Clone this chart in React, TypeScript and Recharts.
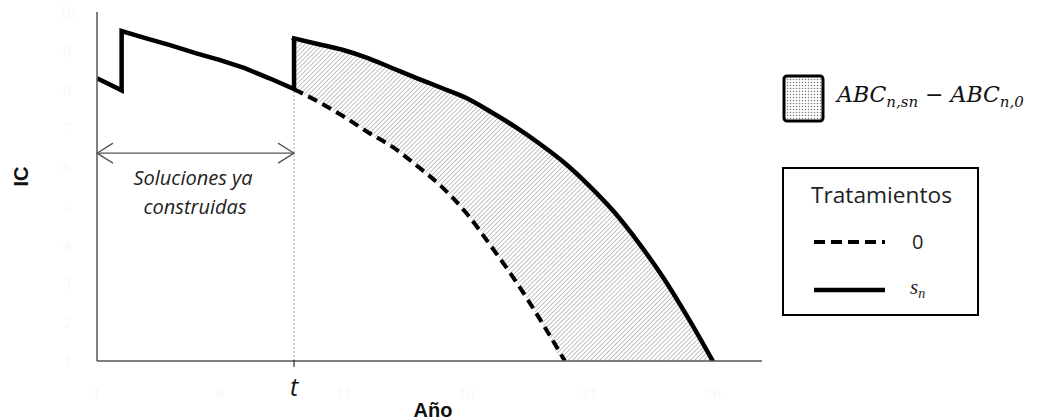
import React from 'react';
import {
  ComposedChart,
  Line,
  Area,
  XAxis,
  YAxis,
  ReferenceLine,
} from 'recharts';

// years on the axis
const xTicks = [1, 6, 9, 11, 16, 21, 26];
const yTicks = [1, 2, 3, 4, 5, 6, 7, 8, 9, 10];
const tYear = 9;

// treatment s_n, years already built (jumps at year 2 and at t)
const builtYears = [1, 2, 2, 3, 4, 5, 6, 7, 8, 9, 9];
const builtIC = [8.29, 7.98, 9.51, 9.32, 9.14, 8.94, 8.76, 8.55, 8.29, 8.01, 9.32];

// treatment s_n from t onwards
const futureYears = [9, 10, 11, 12, 13, 14, 15, 16, 17, 18, 19, 20, 21, 22, 23, 24, 25, 26];
const futureIC = [9.32, 9.17, 9.02, 8.81, 8.55, 8.29, 8.04, 7.78, 7.42, 7.03, 6.59, 6.1, 5.51, 4.84, 4.04, 3.14, 2.11, 1.0];

// treatment 0 from t onwards
const zeroYears = [9, 10, 11, 12, 13, 14, 15, 16, 17, 18, 19, 20];
const zeroIC = [8.01, 7.68, 7.31, 6.9, 6.52, 6.03, 5.49, 4.81, 3.96, 3.06, 2.06, 1.0];

// lower edge of the shaded band ABC_{n,sn} - ABC_{n,0}
const bandLow = [8.01, 7.68, 7.31, 6.9, 6.52, 6.03, 5.49, 4.81, 3.96, 3.06, 2.06, 1, 1, 1, 1, 1, 1, 1];

const builtData = builtYears.map((x, i) => ({ x, ic: builtIC[i] }));
const futureData = futureYears.map((x, i) => ({ x, ic: futureIC[i] }));
const zeroData = zeroYears.map((x, i) => ({ x, ic: zeroIC[i] }));
const bandData = futureYears.map((x, i) => ({ x, range: [bandLow[i], futureIC[i]] }));

const sans = '"Open Sans", sans-serif';
const serif = '"Liberation Serif", serif';
const math = '"DejaVu Serif", serif';
const bold = '"Liberation Sans", Arial, sans-serif';
const faint = '#f8f8f8';

const XTick = (props: any) => {
  const { x, y, payload } = props;
  if (payload.value === tYear) {
    return (
      <g>
        <line x1={x} x2={x} y1={y - 9} y2={y - 2} stroke="#333" strokeWidth={1.2} />
        <text x={x} y={y + 27} textAnchor="middle" fontFamily={sans} fontStyle="italic" fontSize={25} fill="#111">t</text>
      </g>
    );
  }
  return (
    <text x={x} y={y + 30} textAnchor="middle" fontFamily={serif} fontSize={17} fill={faint}>{payload.value}</text>
  );
};

const YTick = (props: any) => {
  const { x, y, payload } = props;
  return (
    <text x={x - 22} y={y + 6} textAnchor="middle" fontFamily={serif} fontSize={17} fill={faint}>{payload.value}</text>
  );
};

const ArrowShape = (props: any) => {
  const { x1, y1, x2, y2 } = props;
  const c = '#555';
  return (
    <g>
      <line x1={x1} y1={y1} x2={x2} y2={y2} stroke={c} strokeWidth={1.3} />
      <polyline points={`${x1 + 16},${y1 - 10} ${x1},${y1} ${x1 + 16},${y1 + 10}`} fill="none" stroke={c} strokeWidth={1.3} />
      <polyline points={`${x2 - 16},${y2 - 10} ${x2},${y2} ${x2 - 16},${y2 + 10}`} fill="none" stroke={c} strokeWidth={1.3} />
    </g>
  );
};

export default function App() {
  return (
    <div style={{ position: 'absolute', left: 0, top: 0, width: 1043, height: 420, background: '#fff' }}>
      <ComposedChart width={1043} height={420} margin={{ top: 12, right: 281, bottom: 0, left: 0 }}>
        <defs>
          <pattern id="hatch" width="3.2" height="3.2" patternUnits="userSpaceOnUse" patternTransform="rotate(45)">
            <line x1="0" y1="0" x2="0" y2="3.2" stroke="#7a7a7a" strokeWidth={0.9} />
          </pattern>
        </defs>
        <XAxis
          type="number"
          dataKey="x"
          domain={[1, 28]}
          ticks={xTicks}
          height={59}
          tickLine={false}
          axisLine={{ stroke: '#555', strokeWidth: 1.5 }}
          tick={<XTick />}
          allowDataOverflow
        />
        <YAxis
          type="number"
          domain={[1, 10]}
          ticks={yTicks}
          width={97}
          tickLine={false}
          axisLine={{ stroke: '#555', strokeWidth: 1.5 }}
          tick={<YTick />}
          allowDataOverflow
          label={{ value: 'IC', angle: -90, position: 'insideLeft', offset: 21, style: { fontFamily: bold, fontWeight: 'bold', fontSize: 20, fill: '#111' } }}
        />
        <Area
          data={bandData}
          dataKey="range"
          type="monotone"
          stroke="none"
          fill="url(#hatch)"
          fillOpacity={1}
          isAnimationActive={false}
        />
        <ReferenceLine
          segment={[{ x: tYear, y: 1 }, { x: tYear, y: 8.01 }]}
          stroke="#aaa"
          strokeDasharray="2 2"
          strokeWidth={1}
        />
        <ReferenceLine
          segment={[{ x: 1, y: 6.36 }, { x: tYear, y: 6.36 }]}
          shape={<ArrowShape />}
        />
        <Line
          data={zeroData}
          dataKey="ic"
          type="monotone"
          stroke="#000"
          strokeWidth={4}
          strokeDasharray="10 6"
          dot={false}
          isAnimationActive={false}
        />
        <Line
          data={builtData}
          dataKey="ic"
          type="linear"
          stroke="#000"
          strokeWidth={4.5}
          strokeLinejoin="miter"
          dot={false}
          isAnimationActive={false}
        />
        <Line
          data={futureData}
          dataKey="ic"
          type="monotone"
          stroke="#000"
          strokeWidth={4.5}
          strokeLinecap="square"
          dot={false}
          isAnimationActive={false}
        />
      </ComposedChart>

      <svg width={1043} height={420} style={{ position: 'absolute', left: 0, top: 0, pointerEvents: 'none' }}>
        <defs>
          <pattern id="dots" width="3" height="3" patternUnits="userSpaceOnUse">
            <rect width="3" height="3" fill="#fff" />
            <circle cx="1.5" cy="1.5" r="0.75" fill="#777" />
          </pattern>
        </defs>
        <text x={193} y={185} textAnchor="middle" fontFamily={sans} fontStyle="italic" fontSize={20} fill="#222">Soluciones ya</text>
        <text x={195} y={214} textAnchor="middle" fontFamily={sans} fontStyle="italic" fontSize={20} fill="#222">construidas</text>
        <text x={433} y={417} textAnchor="middle" fontFamily={bold} fontWeight="bold" fontSize={20} fill="#111">Año</text>

        <rect x={784} y={76} width={39} height={45} rx={3} fill="url(#dots)" stroke="#000" strokeWidth={3} />
        <text x={837} y={102} fontFamily={math} fontStyle="italic" fontSize={22} fill="#111">
          <tspan>ABC</tspan>
          <tspan fontSize={15} dy={5}>n,sn</tspan>
          <tspan fontStyle="normal" dy={-5} dx={7}>−</tspan>
          <tspan dx={7}>ABC</tspan>
          <tspan fontSize={15} dy={5}>n,0</tspan>
        </text>

        <rect x={783} y={168} width={195} height={147} fill="#fff" stroke="#000" strokeWidth={2} />
        <text x={811} y={203} fontFamily={sans} fontSize={21} fill="#222" textLength={141} lengthAdjust="spacingAndGlyphs">Tratamientos</text>
        <line x1={814} x2={885} y1={242} y2={242} stroke="#000" strokeWidth={4} strokeDasharray="11 6" />
        <text x={912} y={249} fontFamily={sans} fontSize={20} fill="#222">0</text>
        <line x1={814} x2={885} y1={290} y2={290} stroke="#000" strokeWidth={4.5} />
        <text x={910} y={294} fontFamily={serif} fontStyle="italic" fontSize={21} fill="#222">
          <tspan>s</tspan>
          <tspan fontSize={14} dy={4}>n</tspan>
        </text>
      </svg>
    </div>
  );
}
